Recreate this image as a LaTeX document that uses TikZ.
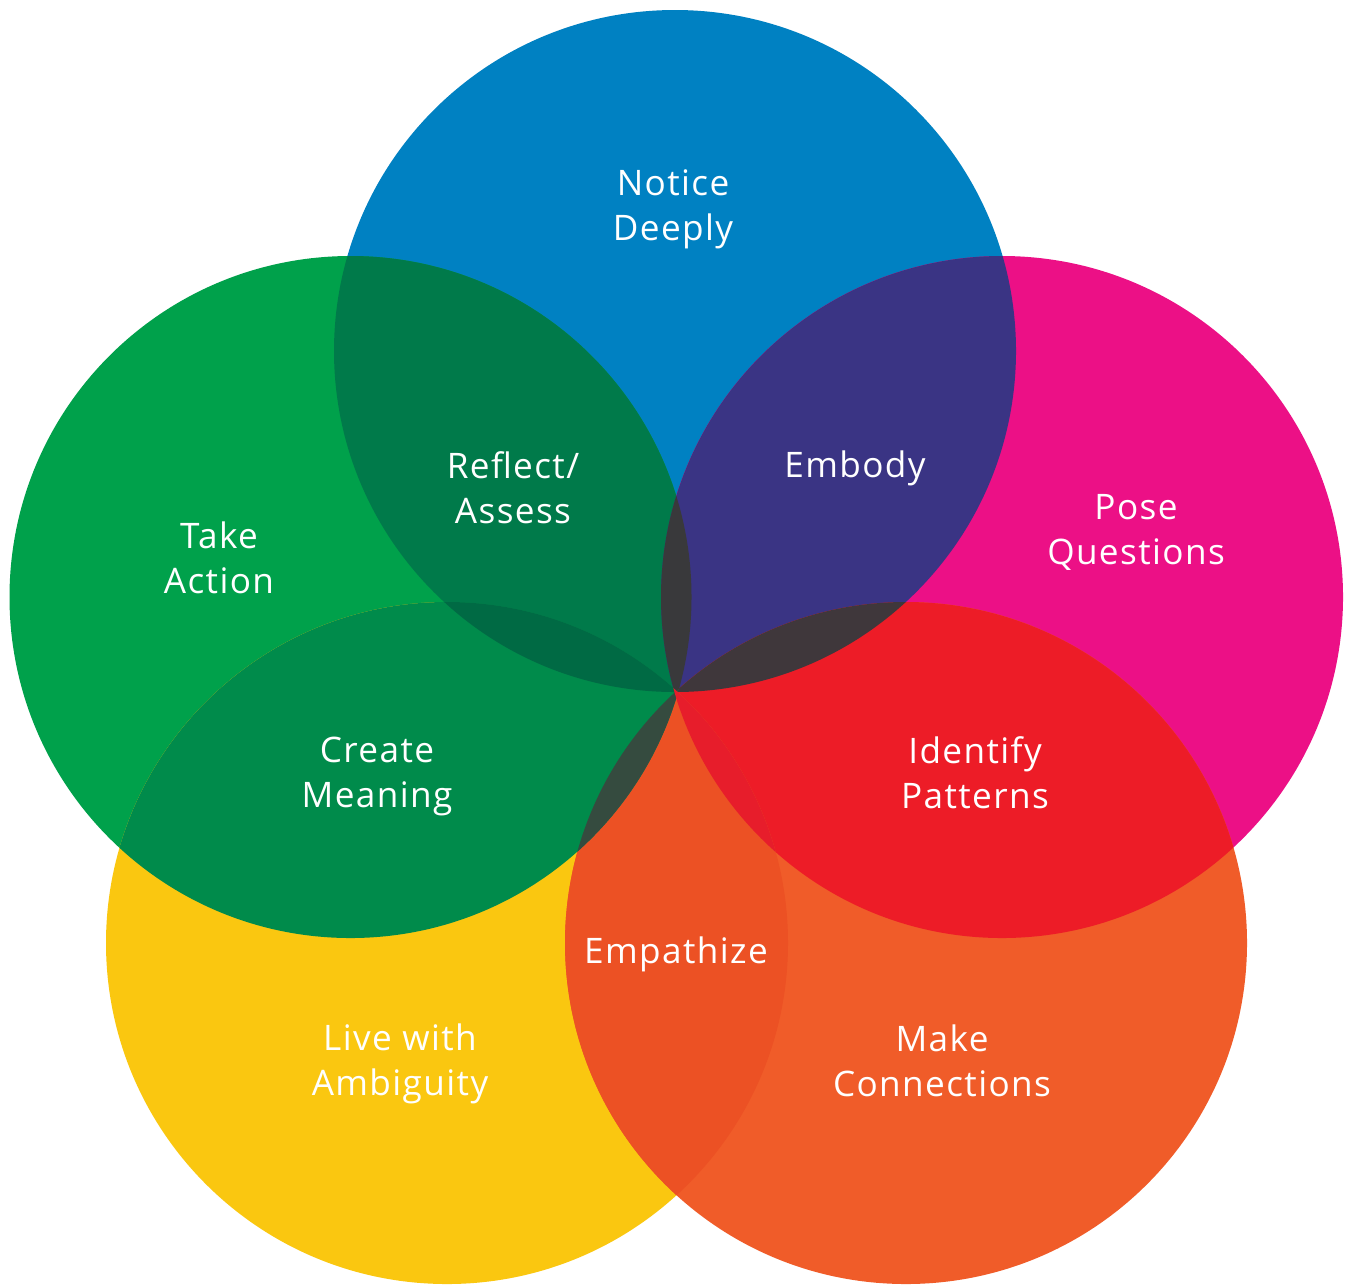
\documentclass[tikz,border=0pt]{standalone}
\usepackage{fontspec}
\newfontfamily\petalfont{Open Sans}[LetterSpace=4]
\definecolor{noticeblue}{RGB}{0, 129, 194}
\definecolor{actiongreen}{RGB}{0, 161, 75}
\definecolor{posepink}{RGB}{236, 16, 134}
\definecolor{ambigyellow}{RGB}{250, 199, 16}
\definecolor{connectorange}{RGB}{240, 92, 41}
\definecolor{reflectgreen}{RGB}{0, 122, 74}
\definecolor{embodypurple}{RGB}{58, 52, 132}
\definecolor{patternred}{RGB}{237, 28, 39}
\definecolor{empathyorange}{RGB}{236, 81, 36}
\definecolor{meaninggreen}{RGB}{0, 139, 75}
\definecolor{lensgray}{RGB}{57, 57, 59}
\definecolor{lensbrown}{RGB}{63, 55, 59}
\definecolor{lensgreen}{RGB}{0, 106, 68}
\definecolor{lensolive}{RGB}{53, 75, 63}
\definecolor{lensred}{RGB}{231, 29, 43}

\begin{document}
\begin{tikzpicture}[
        word/.style={
            text=white,
            align=center,
            font=\petalfont\fontsize{10}{12.8}\selectfont
        },
        petal/.style={radius=3.41}
    ]

    \path[fill=white, use as bounding box] (0,0) rectangle (13.52,-12.84);

    % circle centres
    \coordinate (notice) at (6.75,-3.51);
    \coordinate (action) at (3.505,-5.97);
    \coordinate (pose) at (10.02,-5.97);
    \coordinate (ambig) at (4.47,-9.43);
    \coordinate (connect) at (9.06,-9.43);

    % the five circles
    \fill[noticeblue, petal] (notice) circle;
    \fill[actiongreen, petal] (action) circle;
    \fill[posepink, petal] (pose) circle;
    \fill[ambigyellow, petal] (ambig) circle;
    \fill[connectorange, petal] (connect) circle;

    % neighbours overlapping
    \begin{scope}
        \clip[petal] (action) circle;
        \fill[reflectgreen, petal] (notice) circle;
    \end{scope}
    \begin{scope}
        \clip[petal] (notice) circle;
        \fill[embodypurple, petal] (pose) circle;
    \end{scope}
    \begin{scope}
        \clip[petal] (pose) circle;
        \fill[patternred, petal] (connect) circle;
    \end{scope}
    \begin{scope}
        \clip[petal] (connect) circle;
        \fill[empathyorange, petal] (ambig) circle;
    \end{scope}
    \begin{scope}
        \clip[petal] (ambig) circle;
        \fill[meaninggreen, petal] (action) circle;
    \end{scope}

    % lenses in the middle
    \begin{scope}
        \clip[petal] (action) circle;
        \fill[lensgray, petal] (pose) circle;
    \end{scope}
    \begin{scope}
        \clip[petal] (notice) circle;
        \fill[lensbrown, petal] (connect) circle;
    \end{scope}
    \begin{scope}
        \clip[petal] (notice) circle;
        \fill[lensgreen, petal] (ambig) circle;
    \end{scope}
    \begin{scope}
        \clip[petal] (action) circle;
        \fill[lensolive, petal] (connect) circle;
    \end{scope}
    \begin{scope}
        \clip[petal] (ambig) circle;
        \fill[lensred, petal] (pose) circle;
    \end{scope}

    % texts
    \node[word] (noticetext) at (6.73,-2.095) {Notice\\Deeply};
    \node[word] (reflecttext) at (5.13,-4.88) {Reflect/\\Assess};
    \node[word] (embodytext) at (8.55,-4.68) {Embody};
    \node[word] (actiontext) at (2.19,-5.58) {Take\\Action};
    \node[word] (posetext) at (11.36,-5.32) {Pose\\Questions};
    \node[word] (meaningtext) at (3.77,-7.76) {Create\\Meaning};
    \node[word] (patterntext) at (9.75,-7.73) {Identify\\Patterns};
    \node[word] (empathytext) at (6.76,-9.54) {Empathize};
    \node[word] (ambigtext) at (4.00,-10.64) {Live with\\Ambiguity};
    \node[word] (connecttext) at (9.42,-10.61) {Make\\Connections};

\end{tikzpicture}
\end{document}
